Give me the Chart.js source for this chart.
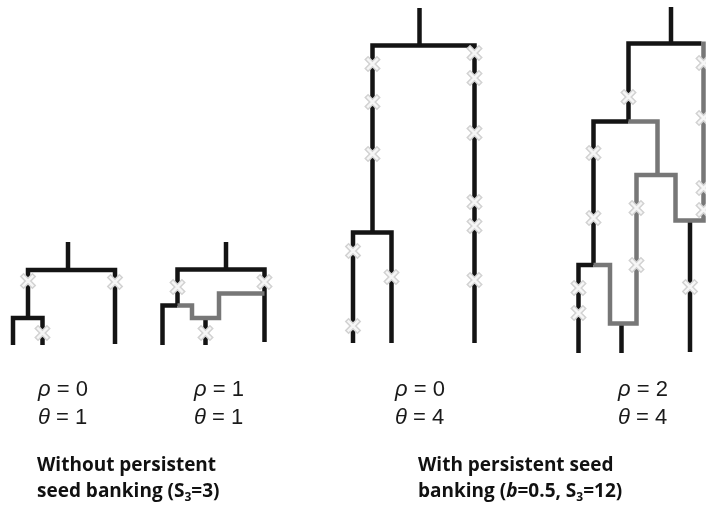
<!DOCTYPE html>
<html>
<head>
<meta charset="utf-8">
<script src="https://cdn.jsdelivr.net/npm/chart.js@4.4.0/dist/chart.umd.min.js"></script>
<style>
    body { margin: 0; background: #fff; }
    #wrap { position: relative; width: 706px; height: 507px; }
    #tree { position: absolute; left: 0; top: 0; }
    .lab { position: absolute; font-family: "Liberation Sans", Arial, sans-serif; font-size: 22px; line-height: 28px; color: #1a1a1a; white-space: nowrap; }
    .cap { position: absolute; font-family: "Open Sans", sans-serif; font-weight: 700; font-size: 19px; line-height: 26px; color: #111; white-space: nowrap; }
    .cap sub { font-size: 12px; line-height: 0; vertical-align: -4px; }
</style>
</head>
<body>
<div id="wrap">
    <canvas id="tree" width="706" height="507"></canvas>
    <div class="lab" style="left:38px;top:375px"><i>ρ</i> = 0<br><i>θ</i> = 1</div>
    <div class="lab" style="left:194px;top:375px"><i>ρ</i> = 1<br><i>θ</i> = 1</div>
    <div class="lab" style="left:395px;top:375px"><i>ρ</i> = 0<br><i>θ</i> = 4</div>
    <div class="lab" style="left:618px;top:375px"><i>ρ</i> = 2<br><i>θ</i> = 4</div>
    <div class="cap" style="left:37px;top:451px">Without persistent<br>seed banking (S<sub>3</sub>=3)</div>
    <div class="cap" style="left:418px;top:451px">With persistent seed<br>banking (<i>b</i>=0.5, S<sub>3</sub>=12)</div>
</div>
<script>
// 가계도 가지 [x, 깊이] - 그림에서 읽은 값 (깊이: 위에서 아래로)
const tree1Black = [
    [[68, 242], [68, 270]],
    [[28, 318], [28, 270], [115, 270], [115, 344]],
    [[13, 345], [13, 318], [42.5, 318], [42.5, 345]]
];
const tree1Mut = [[28, 281], [115, 282], [42.5, 333]];

const tree2Black = [
    [[226, 242], [226, 269.5]],
    [[177.5, 306], [177.5, 269.5], [264.5, 269.5], [264.5, 342]],
    [[162.5, 345], [162.5, 305.5], [177.5, 305.5]],
    [[205.5, 318], [205.5, 345]]
];
const tree2Gray = [
    [[177.5, 305.5], [192, 305.5], [192, 318], [219, 318], [219, 293.5], [264.5, 293.5]]
];
const tree2Mut = [[177.5, 287], [264.5, 282], [205.5, 333]];

const tree3Black = [
    [[419.5, 8], [419.5, 45.5]],
    [[372.5, 232.5], [372.5, 45.5], [474.5, 45.5], [474.5, 343]],
    [[353, 343], [353, 232.5], [391.5, 232.5], [391.5, 343]]
];
const tree3Mut = [[372.5, 64], [372.5, 102], [372.5, 154], [353, 251], [353, 326], [391.5, 277],
    [474.5, 53], [474.5, 78], [474.5, 133], [474.5, 202], [474.5, 226], [474.5, 280]];

const tree4Black = [
    [[671, 7], [671, 43.5]],
    [[628.5, 121.5], [628.5, 43.5], [701.5, 43.5]],
    [[593.5, 265], [593.5, 121.5], [628.5, 121.5]],
    [[578.5, 353], [578.5, 265], [593.5, 265]],
    [[621.5, 323.5], [621.5, 353]],
    [[690, 220.5], [690, 352]]
];
const tree4Gray = [
    [[703.5, 41.5], [703.5, 220.5], [675.5, 220.5], [675.5, 175], [636.5, 175], [636.5, 323.5],
        [610, 323.5], [610, 265], [593.5, 265]],
    [[628.5, 121.5], [657.5, 121.5], [657.5, 175]]
];
const tree4Mut = [[628.5, 97], [703.5, 63], [703.5, 118], [703.5, 188], [703.5, 210],
    [593.5, 153], [593.5, 218], [636.5, 208], [636.5, 265], [578.5, 288], [578.5, 313], [690, 287]];

const BLACK = '#141414';
const GRAY = '#777777';

function toPts(arr) {
    return arr.map(p => ({x: p[0], y: p[1]}));
}

let datasets = [];

// 가지 선
function addPaths(paths, color, order) {
    paths.forEach(function (path) {
        datasets.push({
            data: toPts(path),
            showLine: true,
            borderColor: color,
            borderWidth: 4.5,
            borderJoinStyle: 'miter',
            borderCapStyle: 'butt',
            pointRadius: 0,
            fill: false,
            tension: 0,
            order: order
        });
    });
}
addPaths([].concat(tree1Black, tree2Black, tree3Black, tree4Black), BLACK, 3);
addPaths([].concat(tree2Gray, tree4Gray), GRAY, 2);

// 돌연변이 표시 (X)
const allMut = [].concat(tree1Mut, tree2Mut, tree3Mut, tree4Mut);
datasets.push({
    data: toPts(allMut),
    showLine: false,
    pointStyle: 'crossRot',
    pointRadius: 9,
    pointBorderWidth: 5.5,
    pointBorderColor: '#d2d2d2',
    order: 1
});
datasets.push({
    data: toPts(allMut),
    showLine: false,
    pointStyle: 'crossRot',
    pointRadius: 7.5,
    pointBorderWidth: 2.5,
    pointBorderColor: '#f6f6f6',
    order: 0
});

new Chart(document.getElementById('tree'), {
    type: 'scatter',
    data: {datasets: datasets},
    options: {
        responsive: false,
        animation: false,
        layout: {padding: 0, autoPadding: false},
        plugins: {legend: {display: false}, tooltip: {enabled: false}},
        scales: {
            x: {type: 'linear', min: 0, max: 706, display: false},
            y: {type: 'linear', min: 0, max: 507, reverse: true, display: false}
        }
    }
});
</script>
</body>
</html>
